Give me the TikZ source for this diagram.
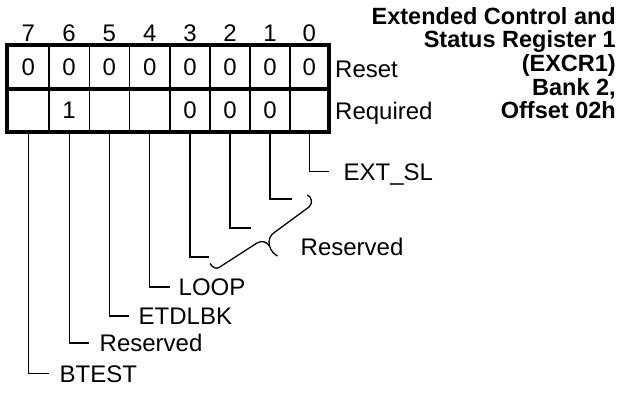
\documentclass[tikz,border=0pt]{standalone}
\usepackage{fontspec}
\setmainfont{Liberation Sans}
\begin{document}
\begin{tikzpicture}[x=1pt,y=-1pt,
  cellbox/.style={draw, line width=1.3pt, inner sep=0pt, minimum height=42.5pt,
    font=\fontsize{24}{24}\selectfont},
  bitnum/.style={inner sep=0pt, font=\fontsize{24}{24}\selectfont},
  frame/.style={line width=3.8pt},
  lead/.style={line width=1.3pt},
  lbl/.style={inner sep=0pt, anchor=west, text height=17.2pt, text depth=0pt,
    font=\fontsize{24}{24}\selectfont},
  title/.style={inner sep=0pt, align=right, font=\fontsize{23.5}{23.6}\selectfont\bfseries}
]
\useasboundingbox (0,0) rectangle (621,392);

% cells
\foreach \b/\l/\r/\v in {7/7.5/49/, 6/49/89.3/1, 5/89.3/129.5/, 4/129.5/170/,
                         3/170/210/0, 2/210/250/0, 1/250/290/0, 0/290/328.7/} {
  \node[bitnum] (n\b) at ({(\l+\r)/2},33) {\b};
  \node[cellbox, minimum width={(\r-\l)*1pt}] (r1b\b) at ({(\l+\r)/2},67.25) {0};
  \node[cellbox, minimum width={(\r-\l)*1pt}] (r2b\b) at ({(\l+\r)/2},109.75) {\v};
}
\draw[frame] (r1b7.north west) rectangle (r2b0.south east);
\draw[frame] (r1b7.south west) -- (r1b0.south east);

\node[lbl] (reset) at (335,68.5) {Reset};
\node[lbl] (required) at (335,110.5) {Required};

\node[title, anchor=north east] (title) at (616,7)
  {Extended Control and\\Status Register 1\\(EXCR1)\\Bank 2,\\Offset 02h};

% labels
\node[lbl] (extsl) at (343.5,171.5) {EXT\_SL};
\node[lbl] (loop) at (178.5,287) {LOOP};
\node[lbl] (etdlbk) at (138.5,316) {ETDLBK};
\node[lbl] (res6) at (99.5,343) {Reserved};
\node[lbl] (btest) at (59.5,373.5) {BTEST};
\node[lbl] (resv) at (300.5,247) {Reserved};

\coordinate (e1) at (292,199);
\coordinate (e2) at (251,228);
\coordinate (e3) at (209,257);

% leads
\draw[lead] (r2b0.south) |- ([xshift=-14.5pt]extsl.west);
\draw[lead] (r2b1.south) |- (e1);
\draw[lead] (r2b2.south) |- (e2);
\draw[lead] (r2b3.south) |- (e3);
\draw[lead] (r2b4.south) |- ([xshift=-8.5pt]loop.west);
\draw[lead] (r2b5.south) |- ([xshift=-9.5pt]etdlbk.west);
\draw[lead] (r2b6.south) |- ([xshift=-10.5pt]res6.west);
\draw[lead] (r2b7.south) |- ([xshift=-11pt]btest.west);

% brace
\draw[lead] (210,263.5) .. controls (213,268) and (216,269) .. (219,267.5)
  -- (257,243) .. controls (262,240) and (267,242) .. (269.5,246)
  .. controls (271,251) and (274,254) .. (277.5,256);
\draw[lead] (269.5,246) .. controls (268,240) and (270,235) .. (275,232)
  -- (309,207) .. controls (313,203) and (312,197) .. (307.3,195);
\end{tikzpicture}
\end{document}
